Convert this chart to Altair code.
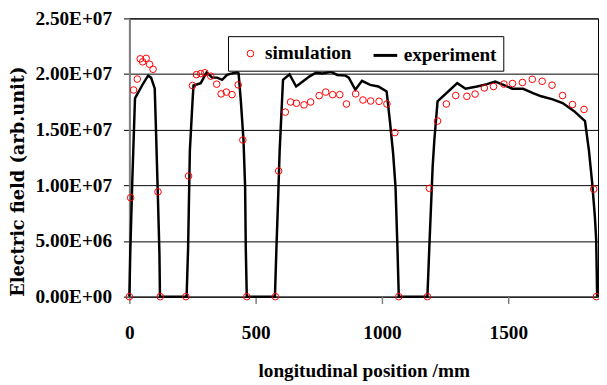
import altair as alt
import pandas as pd

# experiment curve (position mm, field)
exp_x = [0, 3.9, 11.7, 22.3, 35.2, 54.7, 74.2, 85.9, 100.4, 105.5, 113.3, 119.1, 121.1,
         226.6, 232.4, 239.5, 250, 253.9, 282.4, 305.9, 328.1, 347.7, 367.2, 386.7, 406.3, 427.7, 432.4,
         441.4, 451.9, 458.2, 460.9, 464.8,
         576.2, 582, 588.7, 594.9, 608.2, 634, 660.2, 686.3, 712.1, 738.3, 764.5, 796.9, 823, 855.5, 868.4,
         894.5, 920.7, 953.1, 985.5, 1018.3, 1031.3, 1044.1, 1053.5, 1061.3, 1066.4,
         1179.7, 1187.5, 1200.4, 1207, 1219.9, 1298, 1330.8, 1376.2, 1415.2, 1448, 1480.5, 1515.6, 1558.6,
         1597.7, 1630.1, 1675.8, 1714.8, 1760.5, 1803.5, 1819.1, 1832, 1842.5, 1847.7, 1851.6]
exp_y = [0, 4.26e6, 1.046e7, 1.782e7, 1.835e7, 1.915e7, 1.986e7, 1.968e7, 1.871e7, 1.489e7, 8.69e6, 3.81e6, 0,
         0, 4.26e6, 1.312e7, 1.755e7, 1.897e7, 1.918e7, 2.015e7, 1.968e7, 1.968e7, 1.948e7, 1.992e7, 2.006e7, 2.015e7, 2.006e7,
         1.755e7, 1.401e7, 9.84e6, 4.26e6, 0,
         0, 4.26e6, 8.69e6, 1.312e7, 1.948e7, 1.997e7, 1.888e7, 1.933e7, 1.977e7, 2.012e7, 2.006e7, 2.021e7, 1.992e7, 1.986e7, 1.968e7,
         1.859e7, 1.939e7, 1.903e7, 1.888e7, 1.844e7, 1.578e7, 1.285e7, 9.84e6, 4.26e6, 0,
         0, 4.55e6, 1.164e7, 1.401e7, 1.755e7, 1.918e7, 1.868e7, 1.888e7, 1.909e7, 1.933e7, 1.903e7, 1.868e7, 1.868e7,
         1.829e7, 1.80e7, 1.773e7, 1.74e7, 1.667e7, 1.578e7, 1.312e7, 1.02e7, 7.21e6, 5.14e6, 0]

# simulation points
sim_x = [0, 5.1, 16.8, 31.3, 43, 52.7, 66.4, 80.1, 93.8, 113.3, 122.3,
         223.8, 234.4, 250, 265.6, 282.4, 298.8, 322.3, 345.7, 363.3, 384, 406.3, 430.9, 449.2, 464.8,
         578.1, 591, 617.2, 637.9, 661.3, 691.4, 717.6, 751.2, 777.3, 804.7, 832.8, 859.4, 895.7, 924.6,
         955.1, 988.3, 1019.5, 1050.8, 1066.4,
         1179.7, 1187.5, 1219.9, 1254.7, 1291.8, 1335.9, 1368.4, 1405.1, 1441.4, 1482.4, 1516.8, 1555.9,
         1594.9, 1634, 1673, 1714.8, 1753.9, 1799.6, 1837.9, 1848.8]
sim_y = [0, 8.89e6, 1.857e7, 1.955e7, 2.137e7, 2.11e7, 2.141e7, 2.088e7, 2.043e7, 9.42e6, 0,
         0, 1.084e7, 1.897e7, 1.995e7, 2.004e7, 2.012e7, 1.981e7, 1.909e7, 1.822e7, 1.838e7, 1.815e7, 1.903e7, 1.407e7, 0,
         0, 1.129e7, 1.658e7, 1.749e7, 1.738e7, 1.723e7, 1.749e7, 1.806e7, 1.838e7, 1.815e7, 1.815e7, 1.731e7, 1.822e7, 1.767e7,
         1.758e7, 1.755e7, 1.731e7, 1.474e7, 0,
         0, 9.73e6, 1.578e7, 1.731e7, 1.807e7, 1.80e7, 1.82e7, 1.875e7, 1.888e7, 1.91e7, 1.915e7, 1.924e7,
         1.953e7, 1.935e7, 1.90e7, 1.807e7, 1.726e7, 1.682e7, 9.66e6, 0]

series_names = ["simulation", "experiment"]
y_ticks = [0, 5000000, 10000000, 15000000, 20000000, 25000000]
y_tick_labels = ["0.00E+00", "5.00E+06", "1.00E+07", "1.50E+07", "2.00E+07", "2.50E+07"]
x_ticks = [0, 500, 1000, 1500]

exp_df = pd.DataFrame({"x": exp_x, "y": exp_y, "i": list(range(len(exp_x))), "series": "experiment"})
sim_df = pd.DataFrame({"x": sim_x, "y": sim_y, "series": "simulation"})

label_expr = " : ".join(f"datum.value == {v} ? '{l}'" for v, l in zip(y_ticks, y_tick_labels)) + " : ''"

SERIF = "Liberation Serif"
FS = 19.5

x_enc = alt.X("x:Q", scale=alt.Scale(domain=[0, 1855], nice=False, zero=False),
              axis=alt.Axis(values=x_ticks, format="d", title="longitudinal position /mm",
                            grid=False, domain=False, ticks=True, tickColor="#808080", tickSize=7,
                            tickWidth=1.5, labelFlush=False, labelFont=SERIF, labelFontWeight="bold",
                            labelFontSize=FS, labelColor="black", labelPadding=20,
                            titleFont=SERIF, titleFontWeight="bold", titleFontSize=FS,
                            titleColor="black", titleY=81, titleBaseline="alphabetic"))
y_enc = alt.Y("y:Q", scale=alt.Scale(domain=[0, 25000000], nice=False, zero=False),
              axis=alt.Axis(values=y_ticks, labelExpr=label_expr, title="Electric field (arb.unit)",
                            grid=True, gridColor="black", gridWidth=1, gridOpacity=1,
                            domainColor="#808080", domainWidth=2, tickColor="black", tickSize=6,
                            tickWidth=1, labelFlush=False, labelFont=SERIF, labelFontWeight="bold",
                            labelFontSize=FS, labelColor="black", labelPadding=12,
                            titleFont="DejaVu Serif", titleFontWeight="bold", titleFontSize=18,
                            titleColor="black", titleX=-112, titleY=165, titleAngle=270,
                            titleBaseline="middle", titleAlign="center"))

leg = alt.Legend(title=None, orient="none", legendX=100, legendY=18, direction="horizontal",
                 fillColor="white", strokeColor="black", padding=6, labelFont=SERIF,
                 labelFontWeight="bold", labelFontSize=FS, labelColor="black", labelOffset=5,
                 symbolOffset=7, columnPadding=13)

line = alt.Chart(exp_df).mark_line(color="black", strokeWidth=2.5).encode(
    x=x_enc, y=y_enc, order="i:Q")

points = alt.Chart(sim_df).mark_point(filled=False, opacity=1).encode(
    x=x_enc, y=y_enc,
    color=alt.Color("series:N", scale=alt.Scale(domain=series_names, range=["#FF0000", "black"]), legend=leg),
    shape=alt.Shape("series:N", scale=alt.Scale(domain=series_names, range=["circle", "stroke"]), legend=leg),
    size=alt.Size("series:N", scale=alt.Scale(domain=series_names, range=[45, 576]), legend=leg),
    strokeWidth=alt.StrokeWidth("series:N", scale=alt.Scale(domain=series_names, range=[1, 3]), legend=leg),
)

chart = alt.layer(line, points).properties(
    width=475, height=282,
    autosize=alt.AutoSizeParams(type="none"),
    padding={"left": 123, "top": 8, "right": 1, "bottom": 87},
    background="white",
).configure_view(stroke="black", strokeWidth=1)

chart.save("out.html", embed_options={"renderer": "svg", "actions": False})
